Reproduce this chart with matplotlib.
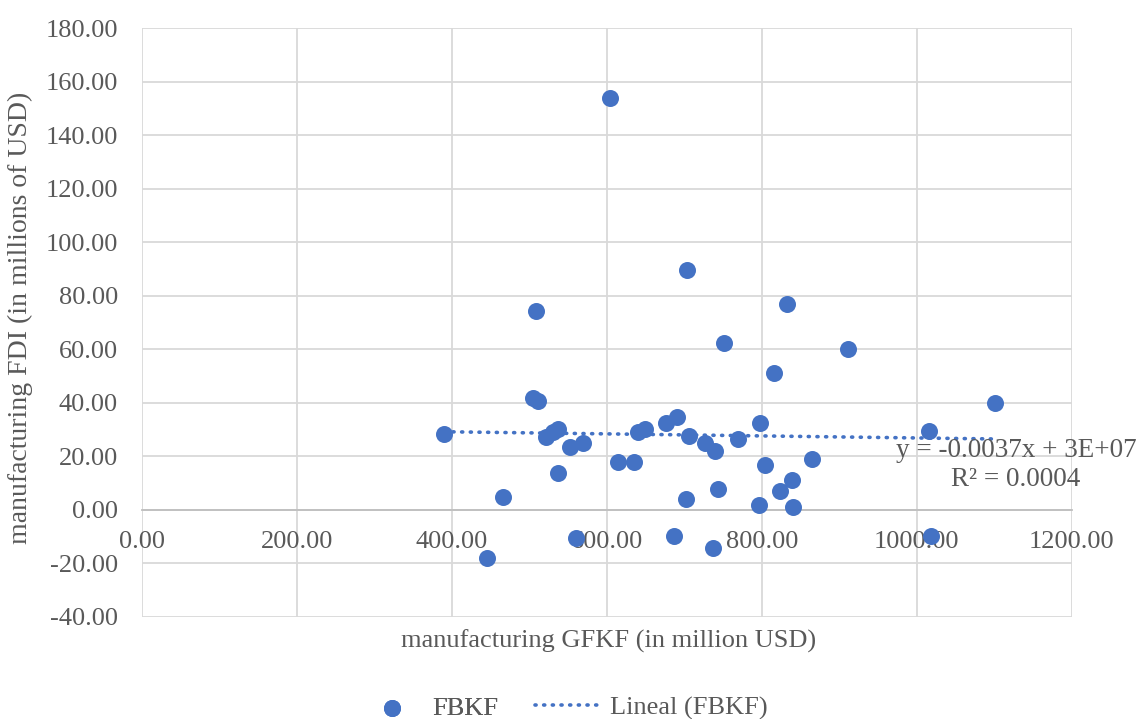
import numpy as np
from matplotlib import pyplot as plt

# FBKF scatter values
gfkf = [390.5, 445.2, 465.8, 505.3, 508.8, 511.0, 521.3, 531.1, 537.6, 536.8,
        553.1, 560.4, 569.0, 604.3, 615.0, 635.6, 641.0, 649.4, 676.1, 686.8,
        691.1, 702.3, 703.2, 706.6, 727.2, 737.6, 740.1, 743.2, 751.0, 769.0,
        797.0, 797.8, 804.3, 815.9, 823.6, 833.1, 839.1, 840.4, 865.3, 911.4,
        1016.3, 1018.0, 1101.0]
fdi = [28.3, -18.1, 4.7, 41.8, 74.4, 40.9, 27.4, 29.3, 30.3, 14.0,
       23.4, -10.6, 25.2, 154.1, 18.1, 18.1, 29.3, 30.2, 32.6, -9.6,
       34.9, 4.0, 89.7, 27.8, 24.9, -14.1, 22.1, 7.7, 62.3, 26.5,
       1.9, 32.4, 16.8, 51.2, 7.2, 77.0, 11.3, 1.2, 19.2, 60.1,
       29.6, -9.7, 40.0]

x_ticks = [0, 200, 400, 600, 800, 1000, 1200]
y_ticks = [-40, -20, 0, 20, 40, 60, 80, 100, 120, 140, 160, 180]
eq_text = "y = -0.0037x + 3E+07\nR² = 0.0004"

blue = '#4472C4'
grey = '#595959'
plt.rcParams['font.family'] = ['Liberation Serif', 'DejaVu Serif']
plt.rcParams['font.size'] = 19

fig = plt.figure(figsize=(11.36, 7.19), dpi=100)
ax = fig.add_axes([0.1247, 0.1419, 0.8187, 0.8185])

pts = ax.scatter(gfkf, fdi, s=150, color=blue, zorder=3, label='FBKF', linewidths=0)

# linear trendline
slope, icpt = np.polyfit(gfkf, fdi, 1)
xs = np.array([min(gfkf), max(gfkf)])
trend, = ax.plot(xs, slope * xs + icpt, color=blue, lw=2.6, linestyle=(0, (0.3, 2.1)),
                 dash_capstyle='round', zorder=2, label='Lineal (FBKF)')

ax.text(1128, 16.8, eq_text, ha='center', va='center', multialignment='center',
        color=grey, fontsize=19.5, linespacing=1.25, zorder=4)

ax.set_xlim(0, 1200)
ax.set_ylim(-40, 180)
ax.set_xticks(x_ticks)
ax.set_yticks(y_ticks)
ax.set_xticklabels([f"{v:.2f}" for v in x_ticks])
ax.set_yticklabels([f"{v:.2f}" for v in y_ticks])
ax.grid(True, color='#d9d9d9', lw=1.3, zorder=0)
ax.set_axisbelow(True)
for s in ['top', 'right', 'left']:
    ax.spines[s].set_visible(False)
ax.spines['bottom'].set_position(('data', 0))
ax.spines['bottom'].set_color('#bfbfbf')
ax.spines['bottom'].set_linewidth(1.3)
ax.tick_params(axis='x', length=0, pad=15, colors=grey)
ax.tick_params(axis='y', length=0, pad=17, colors=grey)

fig.text(0.536, 0.108, "manufacturing GFKF (in million USD)", ha='center', va='center',
         color=grey, fontsize=19)
fig.text(0.018, 0.558, "manufacturing FDI (in millions of USD)", ha='center', va='center',
         rotation=90, color=grey, fontsize=20)

leg1 = fig.legend(handles=[pts], loc='center left', bbox_to_anchor=(0.329, 0.0153),
                  frameon=False, labelcolor=grey, handlelength=1.4, handletextpad=0.83,
                  borderpad=0, borderaxespad=0)
fig.legend(handles=[trend], loc='center left', bbox_to_anchor=(0.471, 0.0153),
           frameon=False, labelcolor=grey, handlelength=2.58, handletextpad=0.27,
           borderpad=0, borderaxespad=0)
fig.add_artist(leg1)

fig.savefig("out.png", dpi=100)
